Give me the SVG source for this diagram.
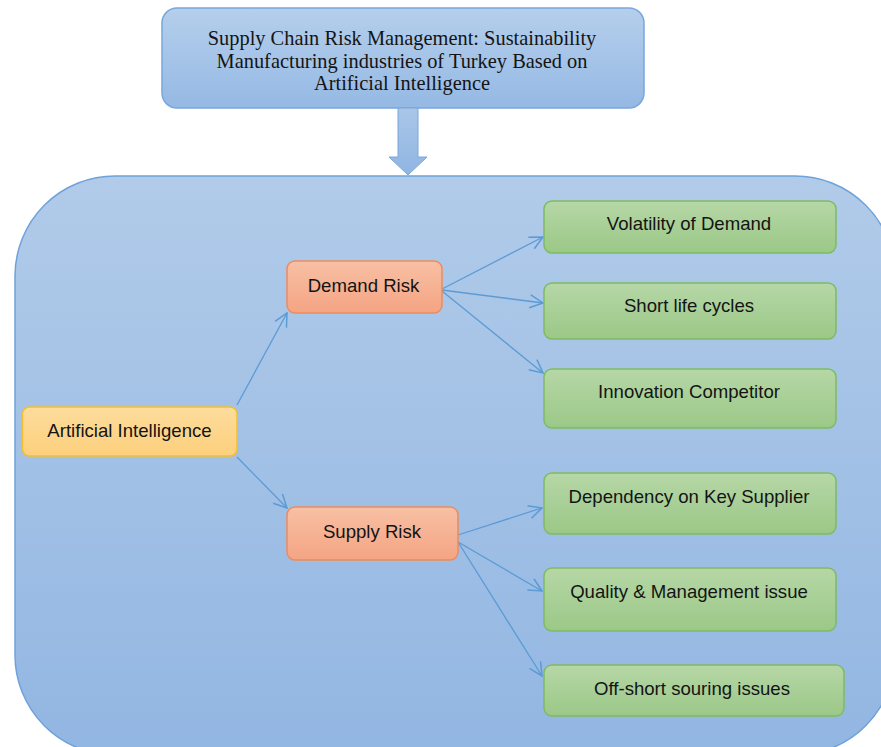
<svg xmlns="http://www.w3.org/2000/svg" width="881" height="747" viewBox="0 0 881 747">
<defs>
<linearGradient id="gBig" x1="0" y1="0" x2="0" y2="1"><stop offset="0" stop-color="#b1cbe9"/><stop offset="1" stop-color="#92b6e2"/></linearGradient>
<linearGradient id="gTitle" x1="0" y1="0" x2="0" y2="1"><stop offset="0" stop-color="#b5cfec"/><stop offset="1" stop-color="#95b9e4"/></linearGradient>
<linearGradient id="gArrow" x1="0" y1="0" x2="0" y2="1"><stop offset="0" stop-color="#a9c6e8"/><stop offset="1" stop-color="#90b5e2"/></linearGradient>
<linearGradient id="gYellow" x1="0" y1="0" x2="0" y2="1"><stop offset="0" stop-color="#fddc9c"/><stop offset="1" stop-color="#fcd07c"/></linearGradient>
<linearGradient id="gOrange" x1="0" y1="0" x2="0" y2="1"><stop offset="0" stop-color="#f8c0a4"/><stop offset="1" stop-color="#f4a483"/></linearGradient>
<linearGradient id="gGreen" x1="0" y1="0" x2="0" y2="1"><stop offset="0" stop-color="#b6d7a6"/><stop offset="1" stop-color="#9bc887"/></linearGradient>
<marker id="ah" viewBox="0 0 12 12" refX="11" refY="6" markerWidth="15" markerHeight="15" markerUnits="userSpaceOnUse" orient="auto">
<path d="M0.5,0.8 L11,6 L0.5,11.2" fill="none" stroke="#5b9bd5" stroke-width="1.2"/>
</marker>
</defs>
<style>
.big{fill:url(#gBig);stroke:#6fa2da;stroke-width:1.5}
.title{fill:url(#gTitle);stroke:#7aa7dc;stroke-width:1.5}
.yel{fill:url(#gYellow);stroke:#f2c02f;stroke-width:1.5}
.ora{fill:url(#gOrange);stroke:#ec8c5e;stroke-width:1.5}
.grn{fill:url(#gGreen);stroke:#7fbb63;stroke-width:1.5}
.t{font-family:"Liberation Sans",Arial,sans-serif;font-size:18.6px;fill:#141414;text-anchor:middle}
.ts{font-family:"Liberation Serif","Times New Roman",serif;font-size:20.4px;fill:#141414;text-anchor:middle}
.c{fill:none;stroke:#5b9bd5;stroke-width:1.3}
</style>
<g id="container"><rect class="big" x="15" y="176" width="880" height="579" rx="100" ry="100"/></g>
<g id="title">
<rect class="title" x="162" y="8" width="482" height="100" rx="15" ry="15"/>
<text class="ts" x="402" y="45">Supply Chain Risk Management: Sustainability</text>
<text class="ts" x="402" y="67.5">Manufacturing industries of Turkey Based on</text>
<text class="ts" x="402" y="90">Artificial Intelligence</text>
</g>
<g id="block-arrow"><path d="M398,108 L418,108 L418,157 L427,157 L408,175 L389,157 L398,157 Z" fill="url(#gArrow)" stroke="#7aa7dc" stroke-width="1"/></g>
<g id="connectors">
<line class="c" x1="237" y1="405" x2="287" y2="313" marker-end="url(#ah)"/>
<line class="c" x1="237" y1="457" x2="287" y2="508" marker-end="url(#ah)"/>
<line class="c" x1="442" y1="289" x2="543" y2="237" marker-end="url(#ah)"/>
<line class="c" x1="442" y1="290" x2="543" y2="303" marker-end="url(#ah)"/>
<line class="c" x1="442" y1="291" x2="543" y2="373" marker-end="url(#ah)"/>
<line class="c" x1="458" y1="535" x2="542" y2="508" marker-end="url(#ah)"/>
<line class="c" x1="458" y1="542" x2="542" y2="591" marker-end="url(#ah)"/>
<line class="c" x1="458" y1="542" x2="542" y2="676" marker-end="url(#ah)"/>
</g>
<g id="ai"><rect class="yel" x="22.5" y="407" width="214.5" height="49" rx="7"/><text class="t" x="129.5" y="437">Artificial Intelligence</text></g>
<g id="demand-risk"><rect class="ora" x="287" y="261" width="155" height="52" rx="8"/><text class="t" x="363.5" y="292">Demand Risk</text></g>
<g id="supply-risk"><rect class="ora" x="287" y="507" width="171" height="53" rx="8"/><text class="t" x="372" y="538">Supply Risk</text></g>
<g id="volatility"><rect class="grn" x="544" y="201" width="292" height="52" rx="8"/><text class="t" x="689" y="230">Volatility of Demand</text></g>
<g id="short-life"><rect class="grn" x="544" y="283" width="292" height="56" rx="8"/><text class="t" x="689" y="312">Short life cycles</text></g>
<g id="innovation"><rect class="grn" x="544" y="369" width="292" height="59" rx="8"/><text class="t" x="689" y="398">Innovation Competitor</text></g>
<g id="dependency"><rect class="grn" x="544" y="473" width="292" height="61" rx="8"/><text class="t" x="689" y="503">Dependency on Key Supplier</text></g>
<g id="quality"><rect class="grn" x="544" y="568" width="292" height="63" rx="8"/><text class="t" x="689" y="598">Quality &amp; Management issue</text></g>
<g id="offshort"><rect class="grn" x="544" y="665" width="300" height="51" rx="8"/><text class="t" x="692" y="695">Off-short souring issues</text></g>
</svg>
